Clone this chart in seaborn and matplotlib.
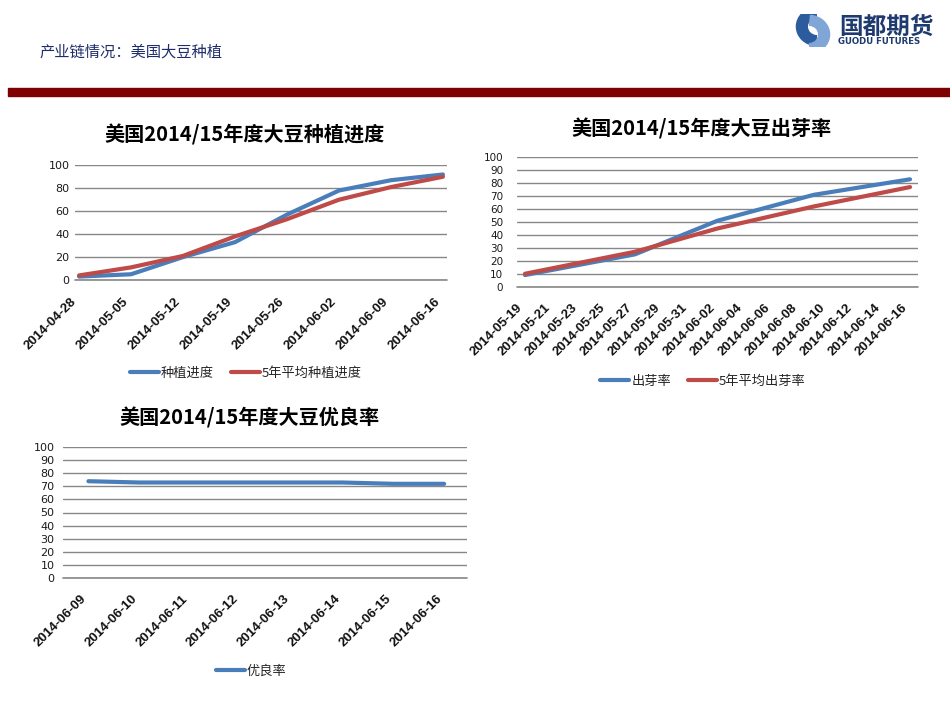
import matplotlib
matplotlib.use("Agg")
import matplotlib.pyplot as plt
from matplotlib.patches import Rectangle, Wedge
import seaborn as sns
import pandas as pd

# ---------------- data ----------------
plant_dates = ['2014-04-28', '2014-05-05', '2014-05-12', '2014-05-19',
               '2014-05-26', '2014-06-02', '2014-06-09', '2014-06-16']
plant_progress = [3, 5, 20, 33, 57, 78, 87, 92]
plant_avg = [4, 11, 21, 38, 53, 70, 81, 90]

emerge_dates = ['2014-05-19', '2014-05-27', '2014-06-02', '2014-06-09', '2014-06-16']
emerge_rate = [9, 25, 51, 71, 83]
emerge_avg = [10, 27, 45, 62, 77]
emerge_ticks = ['2014-05-19', '2014-05-21', '2014-05-23', '2014-05-25', '2014-05-27',
                '2014-05-29', '2014-05-31', '2014-06-02', '2014-06-04', '2014-06-06',
                '2014-06-08', '2014-06-10', '2014-06-12', '2014-06-14', '2014-06-16']

cond_dates = ['2014-06-09', '2014-06-10', '2014-06-11', '2014-06-12',
              '2014-06-13', '2014-06-14', '2014-06-15', '2014-06-16']
cond_rate = [74, 73, 73, 73, 73, 73, 72, 72]

page_title = '产业链情况：美国大豆种植'
title1 = '美国2014/15年度大豆种植进度'
title2 = '美国2014/15年度大豆出芽率'
title3 = '美国2014/15年度大豆优良率'
names1 = ['种植进度', '5年平均种植进度']
names2 = ['出芽率', '5年平均出芽率']
names3 = ['优良率']

BLUE = '#4A7EBB'
RED = '#BE4B48'
GRID = '#878787'

sns.set_theme(style='white')
plt.rcParams['font.family'] = ['Noto Sans CJK SC', 'DejaVu Sans']

W, H = 950, 713
fig = plt.figure(figsize=(W / 100, H / 100), dpi=100)
fig.patch.set_facecolor('white')


def fx(px):
    return px / W


def fy(py):
    return 1 - py / H


# header
fig.text(fx(40), fy(52), page_title, fontsize=11, color='#1F2E6B',
         ha='left', va='center', fontweight='light')
fig.patches.append(Rectangle((fx(8), fy(96)), fx(942), 8 / H,
                             transform=fig.transFigure, color='#7F0000', zorder=0))
# logo
fig.text(fx(839), fy(27), '国都期货', fontsize=17, fontweight='bold',
         color='#1E3A6E', ha='left', va='center')
fig.text(fx(838), fy(42), 'GUODU FUTURES', fontsize=6.2, fontweight='bold',
         color='#1E3A6E', ha='left', va='center', family=['DejaVu Sans'])
lax = fig.add_axes([fx(795), fy(47), fx(36), 33 / H])
lax.set_xlim(0, 1)
lax.set_ylim(0, 1)
lax.axis('off')
lax.add_patch(Wedge((0.62, 0.62), 0.58, 95, 265, width=0.3, color='#2D5C9E'))
lax.add_patch(Wedge((0.38, 0.38), 0.58, -85, 85, width=0.3, color='#7FA6D6'))


def style_axes(ax, yticks, ypad, ysize):
    ax.set_ylim(0, 100)
    ax.set_yticks(yticks)
    ax.set_yticklabels([str(v) for v in yticks], family=['DejaVu Sans'],
                       fontsize=ysize, color='#1a1a1a')
    ax.yaxis.grid(True, color=GRID, linewidth=1)
    ax.xaxis.grid(False)
    ax.axhline(0, color=GRID, linewidth=1.2, clip_on=False, zorder=0.5)
    for s in ax.spines.values():
        s.set_visible(False)
    ax.tick_params(axis='y', length=0, pad=ypad)
    ax.tick_params(axis='x', length=0, pad=11)
    ax.set_xlabel('')
    ax.set_ylabel('')
    ax.set_facecolor('white')


def date_ticks(ax, ticks):
    tk = pd.to_datetime(ticks)
    ax.set_xticks(tk)
    ax.set_xticklabels(ticks, rotation=45, ha='right', va='top',
                       fontsize=9.5, fontweight='bold', family=['Liberation Sans'],
                       color='#111111')


def move_legend(ax, cx, cy, ncol):
    h, l = ax.get_legend_handles_labels()
    if ax.get_legend() is not None:
        ax.get_legend().remove()
    fig.legend(h, l, loc='center', bbox_to_anchor=(fx(cx), fy(cy)), ncol=ncol,
               frameon=False, fontsize=9.5, handlelength=2.2, handletextpad=0.15,
               columnspacing=1.3, borderaxespad=0)


line_kw = dict(linewidth=3.0, solid_capstyle='round', solid_joinstyle='round')

# ---------- chart 1 ----------
ax1 = fig.add_axes([fx(75), fy(280), fx(372), (280 - 165.3) / H])
df1 = pd.DataFrame({
    'date': pd.to_datetime(plant_dates * 2),
    'value': plant_progress + plant_avg,
    'series': [names1[0]] * len(plant_dates) + [names1[1]] * len(plant_dates),
})
sns.lineplot(data=df1, x='date', y='value', hue='series', hue_order=names1,
             palette=[BLUE, RED], ax=ax1, **line_kw)
for ln in ax1.lines:
    ln.set_clip_on(False)
style_axes(ax1, [0, 20, 40, 60, 80, 100], 4, 8)
d0 = pd.to_datetime(plant_dates[0])
d1 = pd.to_datetime(plant_dates[-1])
ax1.set_xlim(d0 - pd.Timedelta(days=0.55), d1 + pd.Timedelta(days=0.55))
date_ticks(ax1, plant_dates)
fig.text(fx(245), fy(135), title1, fontsize=14.5, fontweight='bold',
         ha='center', va='center', color='black')
move_legend(ax1, 246, 373, 2)

# ---------- chart 2 ----------
ax2 = fig.add_axes([fx(517), fy(286.7), fx(401), (286.7 - 157.3) / H])
df2 = pd.DataFrame({
    'date': pd.to_datetime(emerge_dates * 2),
    'value': emerge_rate + emerge_avg,
    'series': [names2[0]] * len(emerge_dates) + [names2[1]] * len(emerge_dates),
})
sns.lineplot(data=df2, x='date', y='value', hue='series', hue_order=names2,
             palette=[BLUE, RED], ax=ax2, **line_kw)
for ln in ax2.lines:
    ln.set_clip_on(False)
style_axes(ax2, list(range(0, 101, 10)), 10, 7.5)
e0 = pd.to_datetime(emerge_dates[0])
e1 = pd.to_datetime(emerge_dates[-1])
ax2.set_xlim(e0 - pd.Timedelta(days=0.58), e1 + pd.Timedelta(days=0.58))
date_ticks(ax2, emerge_ticks)
fig.text(fx(701), fy(129), title2, fontsize=14.5, fontweight='bold',
         ha='center', va='center', color='black')
move_legend(ax2, 703, 381, 2)

# ---------- chart 3 ----------
ax3 = fig.add_axes([fx(63), fy(577.7), fx(404), (577.7 - 447.3) / H])
df3 = pd.DataFrame({
    'date': pd.to_datetime(cond_dates),
    'value': cond_rate,
    'series': [names3[0]] * len(cond_dates),
})
sns.lineplot(data=df3, x='date', y='value', hue='series', hue_order=names3,
             palette=[BLUE], ax=ax3, **line_kw)
style_axes(ax3, list(range(0, 101, 10)), 6, 8)
c0 = pd.to_datetime(cond_dates[0])
c1 = pd.to_datetime(cond_dates[-1])
ax3.set_xlim(c0 - pd.Timedelta(days=0.5), c1 + pd.Timedelta(days=0.45))
date_ticks(ax3, cond_dates)
fig.text(fx(249), fy(418), title3, fontsize=14.5, fontweight='bold',
         ha='center', va='center', color='black')
move_legend(ax3, 251, 671, 1)

fig.savefig('out.png', dpi=100, facecolor='white')
